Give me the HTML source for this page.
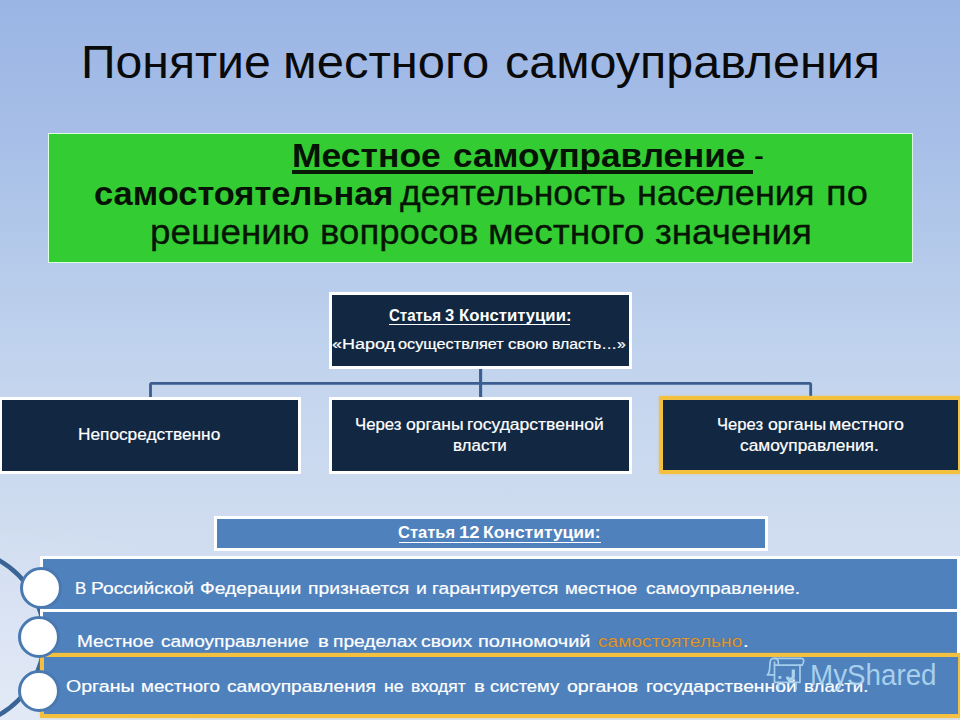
<!DOCTYPE html>
<html lang="ru"><head><meta charset="utf-8"><title>Понятие местного самоуправления</title>
<style>
html,body{margin:0;padding:0;}
body{width:960px;height:720px;overflow:hidden;position:relative;font-family:"Liberation Sans",sans-serif;
 background:linear-gradient(180deg,#9ab4e4 0%,#a6bee7 18%,#b7cceb 38%,#c5d6ee 55%,#cfdcf0 72%,#d8e2f2 100%);}
.a{position:absolute;box-sizing:border-box;}
.t{position:absolute;white-space:pre;line-height:1;transform-origin:0 0;font-family:"Liberation Sans",sans-serif;}
.nb{background:#112742;border:3px solid #fff;}
.gb{background:#112742;border:4px solid #f3c13f;border-radius:2px;box-shadow:0 0 2px rgba(243,193,63,.75);}
.bb{background:#4f81bd;border:3px solid #fff;}
.ln{background:#3b5d90;}
.circ{border-radius:50%;background:radial-gradient(circle at 45% 45%,#ffffff 0%,#ffffff 55%,#f3f7fc 100%);border:3px solid #4a79b1;}
</style></head><body>
<!-- glow bottom-left -->
<div class="a" style="left:0;top:520px;width:300px;height:200px;background:radial-gradient(ellipse at 0% 100%,rgba(236,240,250,.55) 0%,rgba(236,240,250,0) 70%);"></div>

<!-- green definition box -->
<div class="a" style="left:48px;top:133px;width:865px;height:130px;background:#33cc33;border:1px solid #dcffe0;"></div>
<div class="a" style="left:292px;top:170.4px;width:460.5px;height:3.8px;background:#081a06;"></div>

<!-- connectors -->
<svg class="a" style="left:0;top:0" width="960" height="720" viewBox="0 0 960 720">
 <path d="M150.5 397 V384.5 Q150.5 383.3 151.7 383.3 H809.5 Q810.7 383.3 810.7 384.5 V397" fill="none" stroke="#3b5d90" stroke-width="2.8"/>
 <path d="M480.6 367 V398" fill="none" stroke="#3b5d90" stroke-width="3.1"/>
 <!-- big arc -->
 <circle cx="-44.5" cy="637.7" r="88.7" fill="none" stroke="#3b6496" stroke-width="4.6"/>
</svg>

<!-- Article 3 -->
<div class="a nb" style="left:329px;top:292px;width:303px;height:76.8px;"></div>
<div class="a" style="left:389.3px;top:323.6px;width:181.2px;height:1.6px;background:#fff;"></div>
<!-- three boxes -->
<div class="a nb" style="left:-1px;top:397px;width:302px;height:77px;"></div>
<div class="a nb" style="left:329px;top:397px;width:303px;height:77px;"></div>
<div class="a gb" style="left:659px;top:396px;width:303px;height:78px;"></div>

<!-- Article 12 -->
<div class="a bb" style="left:214px;top:516px;width:554px;height:35px;"></div>
<div class="a" style="left:398.8px;top:541.6px;width:202px;height:1.7px;background:#fff;"></div>

<!-- rows -->
<div class="a bb" style="left:40px;top:611px;width:920px;height:46px;border-top:none;border-bottom:none;"></div>
<div class="a bb" style="left:40px;top:556px;width:920px;height:56px;"></div>
<div class="a" style="left:40px;top:653px;width:921.5px;height:64.7px;background:#4f81bd;border:4.5px solid #f3c13f;border-radius:1px;box-shadow:0 0 2px rgba(243,193,63,.6);"></div>

<!-- circles -->
<div class="a circ" style="left:20px;top:567px;width:42px;height:42px;"></div>
<div class="a circ" style="left:18px;top:616px;width:42px;height:42px;"></div>
<div class="a circ" style="left:18px;top:670px;width:42px;height:42px;"></div>

<span class="t" style="left:81.20px;top:38.41px;font-size:47px;color:#0a0a0a;transform:scaleX(1.0240);">Понятие</span>
<span class="t" style="left:283.27px;top:38.41px;font-size:47px;color:#0a0a0a;transform:scaleX(1.0420);">местного</span>
<span class="t" style="left:505.04px;top:38.41px;font-size:47px;color:#0a0a0a;transform:scaleX(1.0304);">самоуправления</span>
<span class="t" style="left:291.90px;top:138.69px;font-size:33.8px;font-weight:700;color:#061203;transform:scaleX(1.0504);">Местное</span>
<span class="t" style="left:453.36px;top:138.69px;font-size:33.8px;font-weight:700;color:#061203;transform:scaleX(1.0380);">самоуправление</span>
<span class="t" style="left:753.61px;top:138.94px;font-size:33.5px;color:#061203;transform:scaleX(0.8889);">-</span>
<span class="t" style="left:94.47px;top:176.64px;font-size:33.5px;font-weight:700;color:#061203;transform:scaleX(1.0271);">самостоятельная</span>
<span class="t" style="left:400.00px;top:176.05px;font-size:34.2px;color:#071504;transform:scaleX(1.0412);-webkit-text-stroke:0.3px #071504;">деятельность</span>
<span class="t" style="left:636.89px;top:176.05px;font-size:34.2px;color:#071504;transform:scaleX(1.0543);-webkit-text-stroke:0.3px #071504;">населения</span>
<span class="t" style="left:825.76px;top:176.05px;font-size:34.2px;color:#071504;transform:scaleX(1.1176);-webkit-text-stroke:0.3px #071504;">по</span>
<span class="t" style="left:150.35px;top:214.85px;font-size:34.2px;color:#071504;transform:scaleX(1.0759);-webkit-text-stroke:0.3px #071504;">решению</span>
<span class="t" style="left:320.16px;top:214.85px;font-size:34.2px;color:#071504;transform:scaleX(1.0703);-webkit-text-stroke:0.3px #071504;">вопросов</span>
<span class="t" style="left:487.83px;top:214.85px;font-size:34.2px;color:#071504;transform:scaleX(1.0872);-webkit-text-stroke:0.3px #071504;">местного</span>
<span class="t" style="left:654.53px;top:214.85px;font-size:34.2px;color:#071504;transform:scaleX(1.0741);-webkit-text-stroke:0.3px #071504;">значения</span>
<span class="t" style="left:388.86px;top:307.76px;font-size:16px;font-weight:700;color:#ffffff;transform:scaleX(0.9396);">Статья</span>
<span class="t" style="left:445.27px;top:307.76px;font-size:16px;font-weight:700;color:#ffffff;transform:scaleX(1.0286);">3</span>
<span class="t" style="left:459.36px;top:307.76px;font-size:16px;font-weight:700;color:#ffffff;transform:scaleX(1.0438);">Конституции:</span>
<span class="t" style="left:331.79px;top:337.39px;font-size:14.9px;color:#ffffff;transform:scaleX(1.2078);-webkit-text-stroke:0.2px #fff;">«Народ</span>
<span class="t" style="left:397.91px;top:337.39px;font-size:14.9px;color:#ffffff;transform:scaleX(1.0938);-webkit-text-stroke:0.2px #fff;">осуществляет</span>
<span class="t" style="left:508.05px;top:337.39px;font-size:14.9px;color:#ffffff;transform:scaleX(1.1455);-webkit-text-stroke:0.2px #fff;">свою</span>
<span class="t" style="left:551.94px;top:337.39px;font-size:14.9px;color:#ffffff;transform:scaleX(1.0588);-webkit-text-stroke:0.2px #fff;">власть…»</span>
<span class="t" style="left:77.59px;top:427.49px;font-size:15.6px;color:#ffffff;transform:scaleX(1.1063);-webkit-text-stroke:0.2px #fff;">Непосредственно</span>
<span class="t" style="left:354.72px;top:417.49px;font-size:15.6px;color:#ffffff;transform:scaleX(1.0762);-webkit-text-stroke:0.2px #fff;">Через</span>
<span class="t" style="left:405.67px;top:417.49px;font-size:15.6px;color:#ffffff;transform:scaleX(1.1265);-webkit-text-stroke:0.2px #fff;">органы</span>
<span class="t" style="left:467.48px;top:417.49px;font-size:15.6px;color:#ffffff;transform:scaleX(1.1225);-webkit-text-stroke:0.2px #fff;">государственной</span>
<span class="t" style="left:453.11px;top:438.19px;font-size:15.6px;color:#ffffff;transform:scaleX(1.0872);-webkit-text-stroke:0.2px #fff;">власти</span>
<span class="t" style="left:717.24px;top:417.49px;font-size:15.6px;color:#ffffff;transform:scaleX(1.0643);-webkit-text-stroke:0.2px #fff;">Через</span>
<span class="t" style="left:767.66px;top:417.49px;font-size:15.6px;color:#ffffff;transform:scaleX(1.1367);-webkit-text-stroke:0.2px #fff;">органы</span>
<span class="t" style="left:829.06px;top:417.49px;font-size:15.6px;color:#ffffff;transform:scaleX(1.1422);-webkit-text-stroke:0.2px #fff;">местного</span>
<span class="t" style="left:740.39px;top:438.19px;font-size:15.6px;color:#ffffff;transform:scaleX(1.1098);-webkit-text-stroke:0.2px #fff;">самоуправления.</span>
<span class="t" style="left:398.45px;top:525.23px;font-size:15.8px;font-weight:700;color:#ffffff;transform:scaleX(1.0472);">Статья</span>
<span class="t" style="left:458.83px;top:525.23px;font-size:15.8px;font-weight:700;color:#ffffff;transform:scaleX(1.1719);">12</span>
<span class="t" style="left:483.39px;top:525.23px;font-size:15.8px;font-weight:700;color:#ffffff;transform:scaleX(1.1058);">Конституции:</span>
<span class="t" style="left:74.96px;top:579.95px;font-size:16.3px;color:#ffffff;transform:scaleX(1.0444);-webkit-text-stroke:0.2px #fff;">В</span>
<span class="t" style="left:91.32px;top:579.95px;font-size:16.3px;color:#ffffff;transform:scaleX(1.1800);-webkit-text-stroke:0.2px #fff;">Российской</span>
<span class="t" style="left:200.01px;top:579.95px;font-size:16.3px;color:#ffffff;transform:scaleX(1.1867);-webkit-text-stroke:0.2px #fff;">Федерации</span>
<span class="t" style="left:308.31px;top:579.95px;font-size:16.3px;color:#ffffff;transform:scaleX(1.1867);-webkit-text-stroke:0.2px #fff;">признается</span>
<span class="t" style="left:415.80px;top:579.95px;font-size:16.3px;color:#ffffff;transform:scaleX(1.2000);-webkit-text-stroke:0.2px #fff;">и</span>
<span class="t" style="left:432.13px;top:579.95px;font-size:16.3px;color:#ffffff;transform:scaleX(1.1717);-webkit-text-stroke:0.2px #fff;">гарантируется</span>
<span class="t" style="left:565.10px;top:579.95px;font-size:16.3px;color:#ffffff;transform:scaleX(1.1475);-webkit-text-stroke:0.2px #fff;">местное</span>
<span class="t" style="left:645.82px;top:579.95px;font-size:16.3px;color:#ffffff;transform:scaleX(1.1781);-webkit-text-stroke:0.2px #fff;">самоуправление.</span>
<span class="t" style="left:77.23px;top:633.20px;font-size:16.3px;color:#ffffff;transform:scaleX(1.1719);-webkit-text-stroke:0.2px #fff;">Местное</span>
<span class="t" style="left:161.23px;top:633.20px;font-size:16.3px;color:#ffffff;transform:scaleX(1.1696);-webkit-text-stroke:0.2px #fff;">самоуправление</span>
<span class="t" style="left:317.50px;top:633.20px;font-size:16.3px;color:#ffffff;transform:scaleX(1.2500);-webkit-text-stroke:0.2px #fff;">в</span>
<span class="t" style="left:332.57px;top:633.20px;font-size:16.3px;color:#ffffff;transform:scaleX(1.1786);-webkit-text-stroke:0.2px #fff;">пределах</span>
<span class="t" style="left:421.31px;top:633.20px;font-size:16.3px;color:#ffffff;transform:scaleX(1.1905);-webkit-text-stroke:0.2px #fff;">своих</span>
<span class="t" style="left:478.27px;top:633.20px;font-size:16.3px;color:#ffffff;transform:scaleX(1.2278);-webkit-text-stroke:0.2px #fff;">полномочий</span>
<span class="t" style="left:597.57px;top:633.20px;font-size:16.3px;color:#dc9a3c;transform:scaleX(1.1777);text-shadow:0 0 1px rgba(110,70,20,.7);">самостоятельно</span>
<span class="t" style="left:742.75px;top:633.20px;font-size:16.3px;color:#ffffff;transform:scaleX(1.2500);-webkit-text-stroke:0.2px #fff;">.</span>
<span class="t" style="left:66.40px;top:677.95px;font-size:16.3px;color:#ffffff;transform:scaleX(1.2018);-webkit-text-stroke:0.2px #fff;">Органы</span>
<span class="t" style="left:141.45px;top:677.95px;font-size:16.3px;color:#ffffff;transform:scaleX(1.1522);-webkit-text-stroke:0.2px #fff;">местного</span>
<span class="t" style="left:227.32px;top:677.95px;font-size:16.3px;color:#ffffff;transform:scaleX(1.1815);-webkit-text-stroke:0.2px #fff;">самоуправления</span>
<span class="t" style="left:383.91px;top:677.95px;font-size:16.3px;color:#ffffff;transform:scaleX(1.0938);-webkit-text-stroke:0.2px #fff;">не</span>
<span class="t" style="left:411.43px;top:677.95px;font-size:16.3px;color:#ffffff;transform:scaleX(1.0700);-webkit-text-stroke:0.2px #fff;">входят</span>
<span class="t" style="left:473.75px;top:677.95px;font-size:16.3px;color:#ffffff;transform:scaleX(1.2500);-webkit-text-stroke:0.2px #fff;">в</span>
<span class="t" style="left:489.87px;top:677.95px;font-size:16.3px;color:#ffffff;transform:scaleX(1.1292);-webkit-text-stroke:0.2px #fff;">систему</span>
<span class="t" style="left:566.80px;top:677.95px;font-size:16.3px;color:#ffffff;transform:scaleX(1.1983);-webkit-text-stroke:0.2px #fff;">органов</span>
<span class="t" style="left:645.82px;top:677.95px;font-size:16.3px;color:#ffffff;transform:scaleX(1.1840);-webkit-text-stroke:0.2px #fff;">государственной</span>
<span class="t" style="left:803.85px;top:677.95px;font-size:16.3px;color:#ffffff;transform:scaleX(1.1481);-webkit-text-stroke:0.2px #fff;">власти.</span>
<span class="t" style="left:810.40px;top:660.00px;font-size:29.3px;color:#b2d9f1;transform:scaleX(0.9477);opacity:.9;">MyShared</span>

<!-- watermark -->
<svg class="a" style="left:760px;top:650px" width="200" height="50" viewBox="760 650 200 50">
 <g fill="none" stroke="#aad3ee" stroke-width="1.7" stroke-linecap="round" stroke-linejoin="round" opacity=".95">
  <path d="M770.2 662.5 Q770.3 658.4 774 658.4 H801.5 Q804 658.6 803.6 661.5 Q803.2 664 802 665.2"/>
  <path d="M774 658.4 Q778.3 658.6 778.3 662 V664.8"/>
  <path d="M770.2 662.5 L769.4 671 Q769 673.6 767.3 674.9 H774.3"/>
  <path d="M774.5 662 V682.3 H800 V665.2"/>
  <path d="M774.5 665.2 H802"/>
  <path d="M778.5 682.3 V689.5"/><path d="M796 682.3 V689.5"/>
 </g>
 <rect x="778.5" y="676" width="2.8" height="2.8" fill="#aad3ee"/>
 <path d="M793.3 669.6 V676.3 Q793.3 679.3 790.3 679.3 Q787.6 679.3 787.4 676.6" fill="none" stroke="#aad3ee" stroke-width="3.2"/>
</svg>
</body></html>
